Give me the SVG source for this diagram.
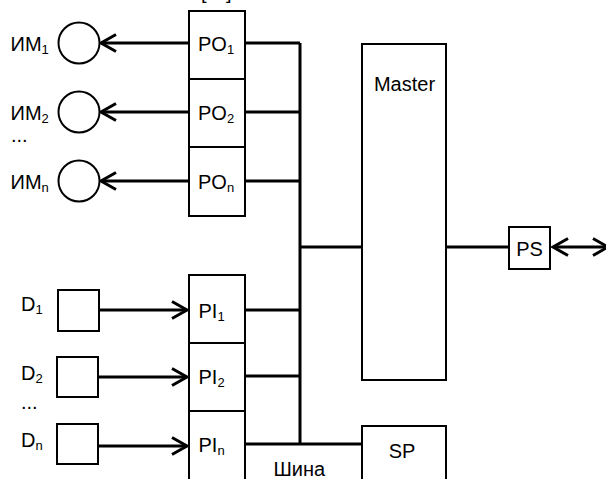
<svg xmlns="http://www.w3.org/2000/svg" width="606" height="479" viewBox="0 0 606 479">
<style>
  .box { fill: #ffffff; stroke: #000000; stroke-width: 2; }
  .wire { fill: none; stroke: #000000; stroke-width: 3; }
  .lbl { font-family: "Liberation Sans", Arial, sans-serif; font-size: 20px; fill: #000000; }
  .sub { font-size: 13px; }
</style>
<defs>
  <marker id="open" markerUnits="userSpaceOnUse" markerWidth="24" markerHeight="24" viewBox="-20 -12 24 24" refX="0" refY="0" orient="auto-start-reverse">
    <path d="M -15 -8.5 L 0 0 L -15 8.5" fill="none" stroke="#000000" stroke-width="3" stroke-linejoin="miter"/>
  </marker>
</defs>
<rect x="0" y="0" width="606" height="479" fill="#ffffff"/>

<text class="lbl" y="-1.5"><tspan x="201">[</tspan><tspan x="226">]</tspan></text>

<g id="connectors">
  <path class="wire" d="M 300 43 L 300 444"/>
  <path class="wire" d="M 245 43 L 300 43"/>
  <path class="wire" d="M 245 112 L 300 112"/>
  <path class="wire" d="M 245 181 L 300 181"/>
  <path class="wire" d="M 245 310 L 300 310"/>
  <path class="wire" d="M 245 376 L 300 376"/>
  <path class="wire" d="M 245 444 L 362 444"/>
  <path class="wire" d="M 300 247 L 362 247"/>
  <path class="wire" d="M 446 247 L 509 247"/>
  <path class="wire" d="M 189 43 L 101 43" marker-end="url(#open)"/>
  <path class="wire" d="M 189 112 L 101 112" marker-end="url(#open)"/>
  <path class="wire" d="M 189 181 L 101 181" marker-end="url(#open)"/>
  <path class="wire" d="M 99 310 L 187 310" marker-end="url(#open)"/>
  <path class="wire" d="M 98 377 L 187 377" marker-end="url(#open)"/>
  <path class="wire" d="M 98 446 L 187 446" marker-end="url(#open)"/>
  <path class="wire" d="M 553 247 L 608 247" marker-start="url(#open)" marker-end="url(#open)"/>
</g>

<g id="im1">
  <circle class="box" cx="79" cy="43" r="20.5"/>
  <text class="lbl" x="10.5" y="51">ИМ<tspan class="sub" dy="3">1</tspan></text>
</g>
<g id="im2">
  <circle class="box" cx="79" cy="112" r="20.5"/>
  <text class="lbl" x="10.5" y="120">ИМ<tspan class="sub" dy="3">2</tspan></text>
</g>
<text class="lbl" x="11" y="142">...</text>
<g id="imn">
  <circle class="box" cx="79" cy="181" r="20.5"/>
  <text class="lbl" x="10.5" y="189">ИМ<tspan class="sub" dy="3">n</tspan></text>
</g>

<g id="po1">
  <rect class="box" x="189" y="11" width="56" height="68"/>
  <text class="lbl" x="198" y="51">PO<tspan class="sub" dy="3">1</tspan></text>
</g>
<g id="po2">
  <rect class="box" x="189" y="79" width="56" height="68"/>
  <text class="lbl" x="198" y="120">PO<tspan class="sub" dy="3">2</tspan></text>
</g>
<g id="pon">
  <rect class="box" x="189" y="147" width="56" height="69"/>
  <text class="lbl" x="198" y="189">PO<tspan class="sub" dy="3">n</tspan></text>
</g>

<g id="d1">
  <rect class="box" x="58" y="290" width="41" height="41"/>
  <text class="lbl" x="21" y="311">D<tspan class="sub" dy="3">1</tspan></text>
</g>
<g id="d2">
  <rect class="box" x="57" y="357" width="41" height="40"/>
  <text class="lbl" x="21" y="380">D<tspan class="sub" dy="3">2</tspan></text>
</g>
<text class="lbl" x="21" y="409">...</text>
<g id="dn">
  <rect class="box" x="57" y="424" width="41" height="40"/>
  <text class="lbl" x="21" y="447">D<tspan class="sub" dy="3">n</tspan></text>
</g>

<g id="pi1">
  <rect class="box" x="189" y="275" width="56" height="68"/>
  <text class="lbl" x="198.5" y="318">PI<tspan class="sub" dy="3">1</tspan></text>
</g>
<g id="pi2">
  <rect class="box" x="189" y="343" width="56" height="68"/>
  <text class="lbl" x="198.5" y="384">PI<tspan class="sub" dy="3">2</tspan></text>
</g>
<g id="pin">
  <rect class="box" x="189" y="411" width="56" height="74"/>
  <text class="lbl" x="198.5" y="452">PI<tspan class="sub" dy="3">n</tspan></text>
</g>

<g id="bus-label">
  <text class="lbl" x="273.5" y="476">Шина</text>
</g>

<g id="master">
  <rect class="box" x="362" y="44" width="84" height="336"/>
  <text class="lbl" x="404.5" y="91" text-anchor="middle">Master</text>
</g>

<g id="ps">
  <rect class="box" x="509" y="227" width="41" height="42"/>
  <text class="lbl" x="529.5" y="255.5" text-anchor="middle">PS</text>
</g>

<g id="sp">
  <rect class="box" x="362" y="426" width="84" height="60"/>
  <text class="lbl" x="402" y="458" text-anchor="middle">SP</text>
</g>
</svg>
